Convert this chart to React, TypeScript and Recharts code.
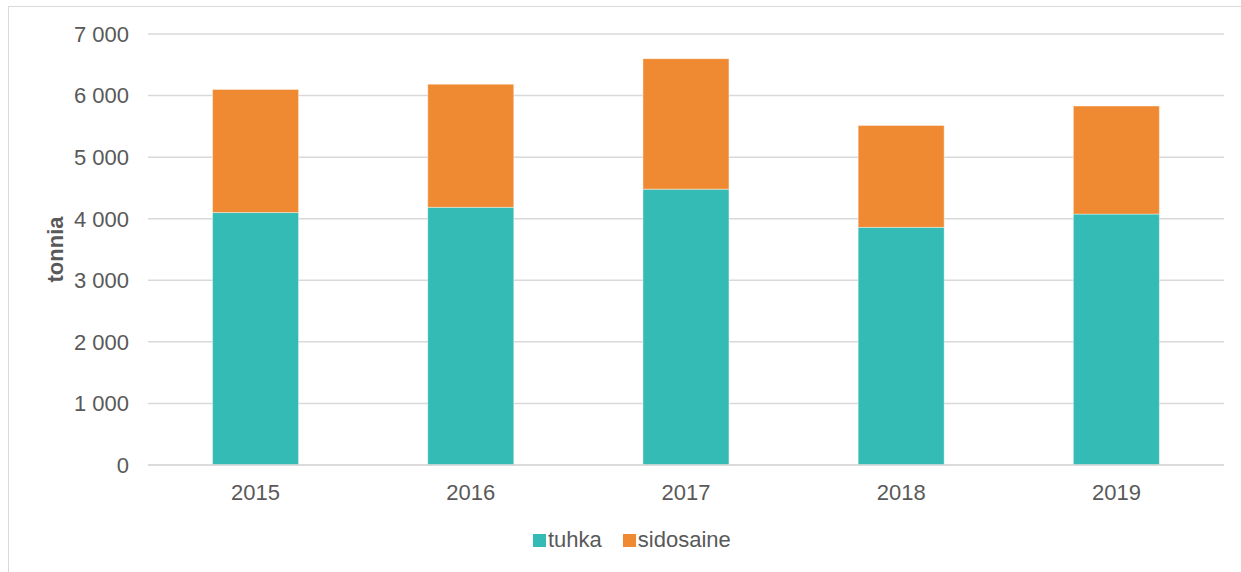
import React from 'react';
import { BarChart, Bar, XAxis, YAxis, CartesianGrid, Legend } from 'recharts';

const years = ['2015', '2016', '2017', '2018', '2019'];
const tuhka = [4100, 4185, 4480, 3860, 4075];
const sidosaine = [2000, 2000, 2120, 1655, 1755];
const yTicks = [0, 1000, 2000, 3000, 4000, 5000, 6000, 7000];
const seriesNames = ['tuhka', 'sidosaine'];
const seriesColors = ['#34BBB5', '#F08A32'];
const yLabel = 'tonnia';

const data = years.map((y, i) => ({ year: y, tuhka: tuhka[i], sidosaine: sidosaine[i] }));

const FONT = '"Liberation Sans", Arial, sans-serif';
const TEXT = '#595959';
const GRID = '#d9d9d9';

const fmt = (v: number) => String(v).replace(/\B(?=(\d{3})+(?!\d))/g, ' ');

const LegendContent = () => (
  <div style={{ display: 'flex', alignItems: 'center', height: 28, fontFamily: FONT, fontSize: 22, color: TEXT, whiteSpace: 'nowrap' }}>
    {seriesNames.map((n, i) => (
      <div key={n} style={{ display: 'flex', alignItems: 'center', marginRight: i === 0 ? 21 : 0 }}>
        <div style={{ width: 13, height: 13, background: seriesColors[i], marginRight: 2 }} />
        <span>{n}</span>
      </div>
    ))}
  </div>
);

const YLabel = (props: any) => {
  const vb = props.viewBox || {};
  const cx = (vb.x || 0) + 55;
  const cy = (vb.y || 0) + (vb.height || 0) / 2;
  return (
    <text x={cx} y={cy} transform={`rotate(-90, ${cx}, ${cy})`} textAnchor="middle" dominantBaseline="central"
      fontFamily={FONT} fontSize={22} fontWeight="bold" fill={TEXT}>
      {yLabel}
    </text>
  );
};

export default function App() {
  return (
    <div style={{ position: 'absolute', left: 0, top: 0, width: 1241, height: 572, overflow: 'hidden', background: '#fff' }}>
      <div style={{ position: 'absolute', left: 8, top: 6, width: 1400, height: 800, border: `1px solid ${GRID}`, boxSizing: 'border-box' }} />
      <div style={{ position: 'absolute', left: 0, top: 0 }}>
        <BarChart width={1241} height={572} data={data} margin={{ top: 34, right: 17, bottom: 77, left: 0 }} barCategoryGap="30%">
          <CartesianGrid vertical={false} stroke={GRID} strokeWidth={1.5} />
          <XAxis dataKey="year" height={30} tickLine={false} tickSize={0} tickMargin={19}
            axisLine={{ stroke: GRID, strokeWidth: 1.5 }}
            tick={{ fontFamily: FONT, fontSize: 22, fill: TEXT }} />
          <YAxis width={148} domain={[0, 7000]} ticks={yTicks} tickFormatter={fmt} axisLine={false} tickLine={false}
            tickSize={0} tickMargin={19} interval={0}
            tick={{ fontFamily: FONT, fontSize: 22, fill: TEXT }}
            label={{ content: YLabel }} />
          <Legend layout="horizontal" verticalAlign="middle" align="center" content={LegendContent}
            wrapperStyle={{ left: 533, top: 526, width: 'auto', height: 28 }} />
          <Bar dataKey="tuhka" name={seriesNames[0]} stackId="a" fill={seriesColors[0]} stroke="#ffffff" strokeOpacity={0.4} strokeWidth={1} isAnimationActive={false} />
          <Bar dataKey="sidosaine" name={seriesNames[1]} stackId="a" fill={seriesColors[1]} stroke="#ffffff" strokeOpacity={0.4} strokeWidth={1} isAnimationActive={false} />
        </BarChart>
      </div>
    </div>
  );
}
